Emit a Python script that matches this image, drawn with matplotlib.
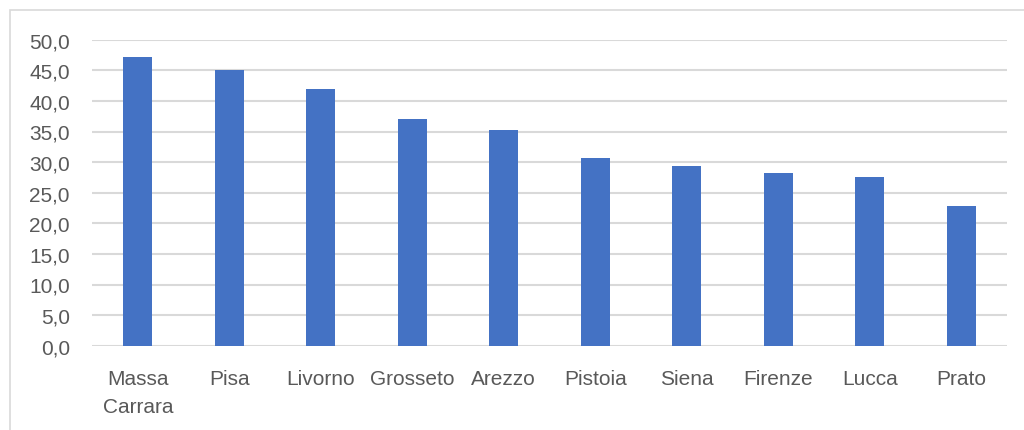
import matplotlib.pyplot as plt
from matplotlib.patches import Rectangle
from matplotlib.ticker import FuncFormatter

province = ["Massa\nCarrara", "Pisa", "Livorno", "Grosseto", "Arezzo",
            "Pistoia", "Siena", "Firenze", "Lucca", "Prato"]
valori = [47.2, 45.0, 41.9, 37.0, 35.3, 30.6, 29.3, 28.3, 27.6, 22.9]
y_ticks = [0, 5, 10, 15, 20, 25, 30, 35, 40, 45, 50]

plt.rcParams["font.family"] = ["Liberation Sans Narrow", "Liberation Sans", "DejaVu Sans"]

fig = plt.figure(figsize=(10.24, 4.31), dpi=100)
ax = fig.add_axes([92 / 1024, 1 - 346.7 / 431, 915 / 1024, 306 / 431])

# chart frame (runs off the right and bottom edges)
fig.patches.append(Rectangle((10 / 1024, -0.05), 1.2, 1 - 11 / 431 + 0.05,
                             transform=fig.transFigure, fill=False,
                             edgecolor="#d9d9d9", linewidth=1.2))

x = range(len(province))
ax.bar(x, valori, width=0.32, color="#4472C4", zorder=3)

ax.set_xlim(-0.5, len(province) - 0.5)
ax.set_ylim(0, 50)
ax.set_yticks(y_ticks)
ax.yaxis.set_major_formatter(FuncFormatter(lambda v, p: f"{v:.1f}".replace(".", ",")))
ax.set_xticks(list(x))
ax.set_xticklabels(province, linespacing=1.6)

ax.grid(axis="y", color="#d9d9d9", linewidth=1.5, zorder=0)
for s in ax.spines.values():
    s.set_visible(False)
ax.tick_params(axis="both", length=0, labelsize=15, labelcolor="#595959")
ax.tick_params(axis="y", pad=16)
ax.tick_params(axis="x", pad=17)

fig.savefig("out.png", dpi=100)
